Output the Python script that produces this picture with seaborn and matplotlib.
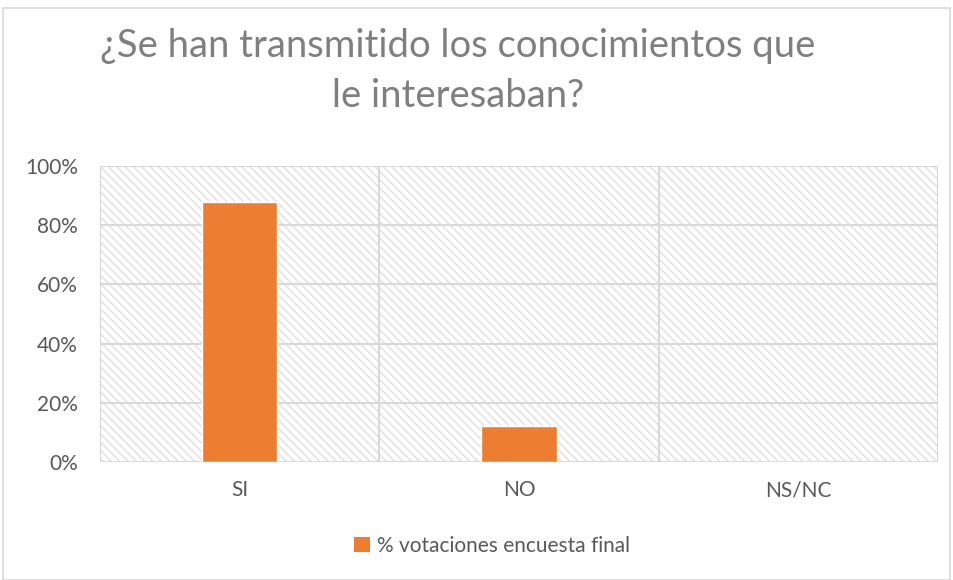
import matplotlib
matplotlib.use("Agg")
import matplotlib.pyplot as plt
from matplotlib.patches import Rectangle, Patch
import seaborn as sns
import pandas as pd

categories = ["SI", "NO", "NS/NC"]
values = [88, 12, 0]
y_ticks = [0, 20, 40, 60, 80, 100]
series_name = "% votaciones encuesta final"
title = "¿Se han transmitido los conocimientos que\nle interesaban?"

sns.set_theme(style="white")
plt.rcParams["font.family"] = ["Lato", "DejaVu Sans"]
plt.rcParams["hatch.linewidth"] = 1.1

df = pd.DataFrame({"cat": categories, "val": values})

fig = plt.figure(figsize=(9.54, 5.8), dpi=100)
ax = fig.add_axes([100 / 954, 1 - 462 / 580, 838 / 954, 296 / 580])

grid_c = "#d9d9d9"
# hatched plot-area background
ax.add_patch(Rectangle((0, 0), 1, 1, transform=ax.transAxes, facecolor="white",
                       edgecolor="#e3e3e3", hatch="\\\\\\\\", linewidth=0, zorder=0))

sns.barplot(data=df, x="cat", y="val", color="#ed7d31", width=0.27,
            saturation=1, ax=ax, zorder=3)

ax.set_xlim(-0.5, 2.5)
ax.set_ylim(0, 100)
ax.set_yticks(y_ticks)
ax.set_yticklabels([f"{t}%" for t in y_ticks])
for t in y_ticks:
    ax.axhline(t, color=grid_c, lw=1.5, zorder=1)
for x in [-0.5, 0.5, 1.5, 2.5]:
    ax.axvline(x, color=grid_c, lw=1.5, zorder=1)
for s in ax.spines.values():
    s.set_visible(False)
ax.set_xlabel("")
ax.set_ylabel("")
ax.tick_params(axis="both", length=0, labelsize=15, colors="#595959")
ax.tick_params(axis="x", pad=13)
ax.tick_params(axis="y", pad=16)

fig.text(458 / 954, 1 - 71 / 580, title, ha="center", va="center",
         fontsize=27.5, color="#7f7f7f", linespacing=1.5)

handle = Patch(facecolor="#ed7d31", edgecolor="none")
fig.legend([handle], [series_name], loc="center", bbox_to_anchor=(492 / 954, 1 - 546 / 580),
           frameon=False, fontsize=15, labelcolor="#595959",
           handlelength=0.75, handleheight=0.75, handletextpad=0.35)

# outer chart border
fig.add_artist(Rectangle((3 / 954, 0), 947 / 954, 1 - 8 / 580, transform=fig.transFigure,
                         facecolor="none", edgecolor="#d9d9d9", lw=1.2))

fig.savefig("out.png", dpi=100)
